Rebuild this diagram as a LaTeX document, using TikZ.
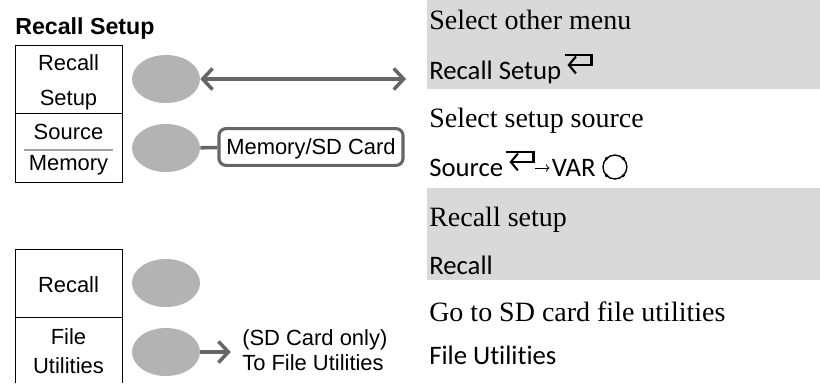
\documentclass[tikz,border=0pt]{standalone}
\usepackage{fontspec}
\setmainfont{Liberation Serif}
\newfontfamily\arialfont{Liberation Sans}
\newfontfamily\calfont[Ligatures=NoCommon]{Carlito}
\usetikzlibrary{shapes.geometric,arrows.meta,positioning}
\definecolor{bandgray}{HTML}{D9D9D9}
\definecolor{knobgray}{HTML}{B3B3B3}
\definecolor{linegray}{HTML}{666666}
\definecolor{sepgray}{HTML}{A0A0A0}
\tikzset{
  knob/.style={ellipse, fill=knobgray, minimum width=1.7cm, minimum height=1.2cm, inner sep=0pt},
  celltext/.style={font=\arialfont\fontsize{15.6}{18}\selectfont, inner sep=0pt, text height=11.2pt, text depth=0pt},
  headtext/.style={font=\arialfont\bfseries\fontsize{16.5}{19}\selectfont, inner sep=0pt, text height=11.8pt, text depth=0pt},
  stepdesc/.style={anchor=base west, inner sep=0pt, font=\fontsize{19.9}{22}\selectfont},
  keyseq/.style={anchor=base west, inner sep=0pt, font=\calfont\fontsize{19}{22}\selectfont},
  boxline/.style={draw=black, line width=0.7pt},
  pointer/.style={draw=linegray, line width=2.5pt},
  barb/.tip={Straight Barb[length=7pt,width=15pt]},
  srcbox/.style={draw=linegray, line width=2.2pt, rounded corners=5pt, minimum width=4.6cm, minimum height=0.92cm, inner sep=0pt, celltext},
  keyline/.style={draw=black, line width=1.5pt, -{Straight Barb[length=5pt,width=12pt]}},
}
% enter key glyph after a key name
\newcommand\enterkey[1]{\draw[keyline] ([shift={(3,-24)}]#1) -- ++(27,0) -- ++(0,10) -- ++(-24,0);}
\begin{document}
\begin{tikzpicture}[x=0.025cm, y=-0.025cm]
  \useasboundingbox (0,0) rectangle (820,383);
  % heading
  \node[headtext, anchor=west] (title) at (15,26) {Recall Setup};
  % upper menu boxes
  \draw[boxline] (15,45) rectangle (122,182);
  \draw[boxline] (15,113) -- (122,113);
  \draw[sepgray, line width=1.4pt] (24,150) -- (113,150);
  \node[celltext] (recall) at (68.5,63) {Recall};
  \node[celltext] (setup) at (68.5,98) {Setup};
  \node[celltext] (source) at (68.5,132) {Source};
  \node[celltext] (memory) at (68.5,163) {Memory};
  % lower menu boxes
  \draw[boxline] (15,383) |- (122,249) -- (122,383);
  \draw[boxline] (15,317) -- (122,317);
  \node[celltext] (recallb) at (68.5,285) {Recall};
  \node[celltext] (file) at (68.5,337) {File};
  \node[celltext] (utils) at (68.5,366) {Utilities};
  % soft keys
  \node[knob] (k1) at (166,79) {};
  \node[knob] (k2) at (166,148) {};
  \node[knob] (k3) at (166,283) {};
  \node[knob] (k4) at (166,352) {};
  % connectors
  \coordinate (menuend) at (406,79);
  \draw[pointer, barb-barb] (k1) -- (menuend);
  \node[srcbox] (src) at (311,147) {Memory/SD Card};
  \draw[pointer] (k2) -- (src);
  \node[celltext, anchor=west] (sdnote) at (242,338) {(SD Card only)};
  \node[celltext, anchor=west] (tofile) at (242,363) {To File Utilities};
  \draw[pointer, -barb] (k4) -- ([xshift=-8pt]k4 -| sdnote.west);
  % right column
  \fill[bandgray] (427,0) rectangle (820,89);
  \fill[bandgray] (427,188) rectangle (820,280);
  \node[stepdesc] (d1) at (429,29) {Select other menu};
  \node[keyseq] (s1) at (429,79) {Recall Setup};
  \enterkey{s1.base east}
  \node[stepdesc] (d2) at (429,127) {Select setup source};
  \node[keyseq] (s2) at (429,176) {Source};
  \enterkey{s2.base east}
  \node[keyseq] (var) at ([shift={(48,0)}]s2.base east) {VAR};
  \draw[line width=0.6pt, -{To[length=2.5pt]}] ([shift={(32,-8)}]s2.base east) -- ([shift={(-2,-8)}]var.base west);
  \coordinate (knobc) at ([shift={(19,-9)}]var.base east);
  \draw[line width=1pt] (knobc) circle[radius=8.5pt];
  \foreach \a in {45,135,225,315}
    \fill (knobc) ++(\a:8.5pt) circle[radius=1.3pt];
  \node[stepdesc] (d3) at (429,226) {Recall setup};
  \node[keyseq] (s3) at (429,274) {Recall};
  \node[stepdesc] (d4) at (429,321) {Go to SD card file utilities};
  \node[keyseq] (s4) at (429,364) {File Utilities};
\end{tikzpicture}
\end{document}
